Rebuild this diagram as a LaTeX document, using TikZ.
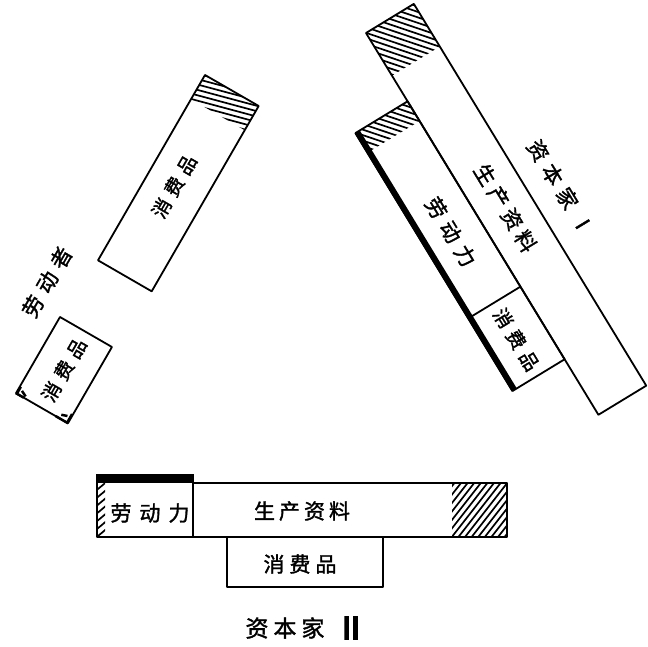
\documentclass[tikz,border=0pt]{standalone}
\usepackage{fontspec}
\newfontfamily\cjk[FakeBold=1.5]{Noto Sans CJK SC}
\newfontfamily\cjkheavy[FakeBold=6]{Noto Sans CJK SC}
\tikzset{
  edge/.style={draw=black, line width=1.8pt, line join=round},
  hatchline/.style={draw=black, line width=1.7pt},
  lbl/.style={font=\cjk\fontsize{21}{21}\selectfont, inner sep=0pt},
  lblsm/.style={font=\cjk\fontsize{19}{19}\selectfont, inner sep=0pt},
}
% hatch: x0 y0 x1 y1 angle spacing count
\newcommand{\hatchrect}[7]{%
  \begin{scope}
    \clip (#1,#2) rectangle (#3,#4);
    \pgfmathsetmacro\hcx{(#1+#3)/2}
    \pgfmathsetmacro\hcy{(#2+#4)/2}
    \foreach \k in {-#7,...,#7}{
      \draw[hatchline, rotate around={#5:(\hcx,\hcy)}]
        ({\hcx-150},{\hcy+(\k)*#6}) -- ({\hcx+150},{\hcy+(\k)*#6});
    }
  \end{scope}}
\begin{document}
\begin{tikzpicture}[x=1pt,y=1pt]
\useasboundingbox (0,0) rectangle (648,647);
\fill[white] (0,0) rectangle (648,647);

% ---------- Capitalist I (rotated group) ----------
\begin{scope}[shift={(366,614)}, rotate=31.33]
  % long bar: means of production
  \hatchrect{0}{-50}{56}{0}{-50}{5.2}{25}
  \draw[edge] (0,0) rectangle (56,-447);
  % labour-power + consumer goods bar
  \hatchrect{-61}{-103}{0}{-80}{-50}{5.2}{20}
  \fill (-62,-80) rectangle (-56,-382);
  \draw[edge] (-61,-80) rectangle (0,-382);
  \draw[edge] (-61,-297) -- (0,-297);
  \node[lbl, rotate=-58.67] (mp1) at (28,-222) {生\hspace{5pt}产\hspace{5pt}资\hspace{5pt}料};
  \node[lbl, rotate=-58.67] (cap1) at (86,-233) {资\hspace{7pt}本\hspace{7pt}家\hspace{9pt}Ⅰ};
  \node[lbl, rotate=-58.67] (lp1) at (-31,-214) {劳\hspace{7pt}动\hspace{7pt}力};
  \node[lblsm, rotate=-58.67] (cg1) at (-31,-340) {消\hspace{6pt}费\hspace{6pt}品};
\end{scope}

% ---------- Worker's consumer goods (upper left) ----------
\begin{scope}[shift={(205,572)}, rotate=-30]
  \hatchrect{0}{-28}{62}{0}{15}{5.2}{20}
  \draw[edge] (0,0) rectangle (62,-214);
  \node[lblsm, rotate=60] (cgw) at (29,-112) {消\hspace{6pt}费\hspace{6pt}品};
\end{scope}

\node[lbl, rotate=60] (worker) at (47,365) {劳\hspace{7pt}动\hspace{7pt}者};

% ---------- small consumer goods (lower left) ----------
\begin{scope}[shift={(60,330)}, rotate=-30]
  \draw[edge] (0,0) rectangle (60,-88);
  \draw[line width=2.5pt] (1,-80) -- (1,-88) -- (9,-88);
  \draw[line width=2.5pt] (4,-83) -- (10,-86);
  \draw[line width=2.5pt] (46,-88) -- (59,-88) -- (59,-78);
  \draw[line width=2.5pt] (50,-84) -- (56,-82);
  \node[lblsm, rotate=60] (cgs) at (30,-44) {消\hspace{6pt}费\hspace{6pt}品};
\end{scope}

% ---------- Capitalist II (horizontal) ----------
\fill (96,164) rectangle (194,173);
\hatchrect{97}{110}{105}{164}{40}{6}{12}
\draw[edge] (97,110) rectangle (193,172);
\hatchrect{452}{110}{507}{164}{52}{5.2}{20}
\draw[edge] (193,110) rectangle (507,164);
\draw[edge] (227,60) rectangle (383,110);
\node[lbl] (lp2) at (150,134) {劳\hspace{8pt}动\hspace{8pt}力};
\node[lbl] (mp2) at (302,136) {生\hspace{4pt}产\hspace{4pt}资\hspace{4pt}料};
\node[lbl] (cg2) at (300,83) {消\hspace{5pt}费\hspace{5pt}品};
\node[font=\cjk\fontsize{23}{23}\selectfont, inner sep=0pt] (cap2) at (285,19) {资\hspace{5pt}本\hspace{5pt}家};
\node[font=\cjkheavy\fontsize{30}{30}\selectfont, inner sep=0pt] (two) at (351,19) {Ⅱ};
\end{tikzpicture}
\end{document}
